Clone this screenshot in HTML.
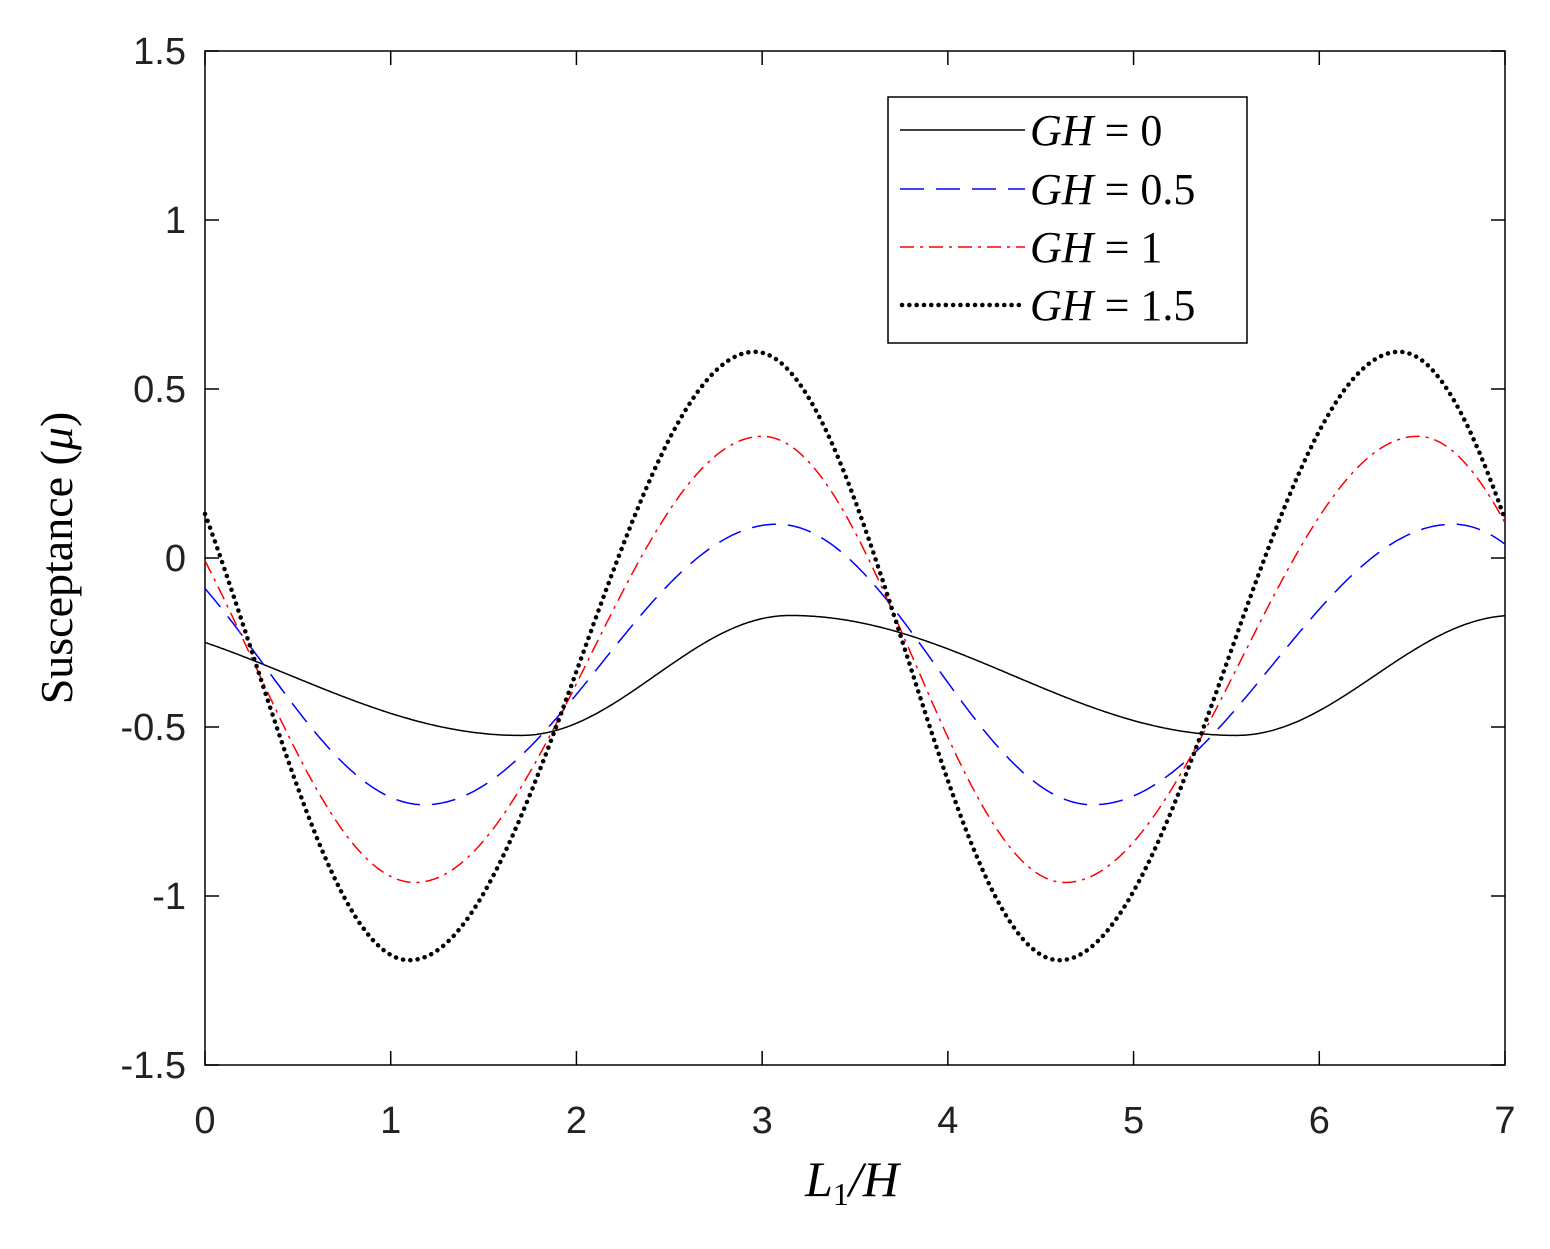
<!DOCTYPE html>
<html><head><meta charset="utf-8"><style>
body{margin:0;background:#fff}
svg text{font-family:"Liberation Sans",sans-serif}
svg text.sf{font-family:"Liberation Serif",serif}
</style></head><body>
<svg id="g" width="1550" height="1244" xmlns="http://www.w3.org/2000/svg">
<rect x="0" y="0" width="1550" height="1244" fill="#fff"/>
<g id="ax" stroke="#000" stroke-width="1.5" fill="none"></g>
<g id="curves" fill="none"></g>
<g font-size="38" fill="#222" id="lbl"></g>
<text class="sf" x="852" y="1196" font-size="50" text-anchor="middle" font-style="italic">L<tspan font-size="32" dy="9" font-style="normal">1</tspan><tspan dy="-9">/H</tspan></text>
<text class="sf" transform="translate(72,558) rotate(-90)" font-size="46" text-anchor="middle">Susceptance (<tspan font-style="italic">μ</tspan>)</text>
<rect x="888" y="97" width="359" height="246" fill="#fff" stroke="#000" stroke-width="1.5"/>
<line x1="900" y1="130" x2="1025" y2="130" stroke="#000" stroke-width="1.5"/>
<line x1="900" y1="189" x2="1025" y2="189" stroke="#00f" stroke-width="1.5" stroke-dasharray="24 12"/>
<line x1="900" y1="247" x2="1025" y2="247" stroke="#f00" stroke-width="1.5" stroke-dasharray="14 6 3 6"/>
<line x1="902" y1="305" x2="1025" y2="305" stroke="#000" stroke-width="4.5" stroke-linecap="round" stroke-dasharray="0.1 7.2"/>
<g font-size="44" fill="#000">
<text class="sf" x="1030" y="145"><tspan font-style="italic">GH</tspan> = 0</text>
<text class="sf" x="1030" y="204"><tspan font-style="italic">GH</tspan> = 0.5</text>
<text class="sf" x="1030" y="262"><tspan font-style="italic">GH</tspan> = 1</text>
<text class="sf" x="1030" y="320"><tspan font-style="italic">GH</tspan> = 1.5</text>
</g>
</svg>
<script>
const X=x=>205+x*1300/7, Y=y=>558-y*338;
const NS="http://www.w3.org/2000/svg";
function el(p,t,a){const e=document.createElementNS(NS,t);for(const k in a)e.setAttribute(k,a[k]);p.appendChild(e);return e;}
const ax=document.getElementById('ax'),lbl=document.getElementById('lbl');
el(ax,'rect',{x:205,y:51,width:1300,height:1014});
for(let i=0;i<=7;i++){const x=X(i);el(ax,'line',{x1:x,y1:1065,x2:x,y2:1051});el(ax,'line',{x1:x,y1:51,x2:x,y2:65});
 const t=el(lbl,'text',{x:x,y:1133,'text-anchor':'middle'});t.textContent=i;}
for(let k=-3;k<=3;k++){const v=k*0.5,y=Y(v);el(ax,'line',{x1:205,y1:y,x2:219,y2:y});el(ax,'line',{x1:1505,y1:y,x2:1491,y2:y});
 const t=el(lbl,'text',{x:186,y:y+13,'text-anchor':'end'});t.textContent=(v===0?'0':String(v));}
function path(ext){let d='';for(let i=0;i<=700;i++){const x=i/100;let j=0;while(ext[j+1][0]<x)j++;
 const [x0,y0]=ext[j],[x1,y1]=ext[j+1];const t=(x-x0)/(x1-x0);const y=y0+(y1-y0)*(1-Math.cos(Math.PI*t))/2;
 d+=(i?'L':'M')+X(x).toFixed(1)+' '+Y(y).toFixed(1);}return d;}
const c=document.getElementById('curves');
el(c,'path',{d:path([[-0.78,-0.17],[1.7,-0.525],[3.15,-0.17],[5.55,-0.525],[7.05,-0.17]]),stroke:'#000','stroke-width':1.5});
el(c,'path',{d:path([[-0.55,0.1],[1.18,-0.73],[3.08,0.1],[4.78,-0.73],[6.72,0.1],[8.35,-0.73]]),stroke:'#00f','stroke-width':1.5,'stroke-dasharray':'24 12'});
el(c,'path',{d:path([[-0.62,0.36],[1.13,-0.96],[3.0,0.36],[4.63,-0.96],[6.53,0.36],[8.15,-0.96]]),stroke:'#f00','stroke-width':1.5,'stroke-dasharray':'14 6 3 6'});
el(c,'path',{d:path([[-0.58,0.61],[1.1,-1.19],[2.96,0.61],[4.6,-1.19],[6.43,0.61],[8.05,-1.19]]),stroke:'#000','stroke-width':4.5,'stroke-linecap':'round','stroke-dasharray':'0.1 7.2'});
</script>
</body></html>
